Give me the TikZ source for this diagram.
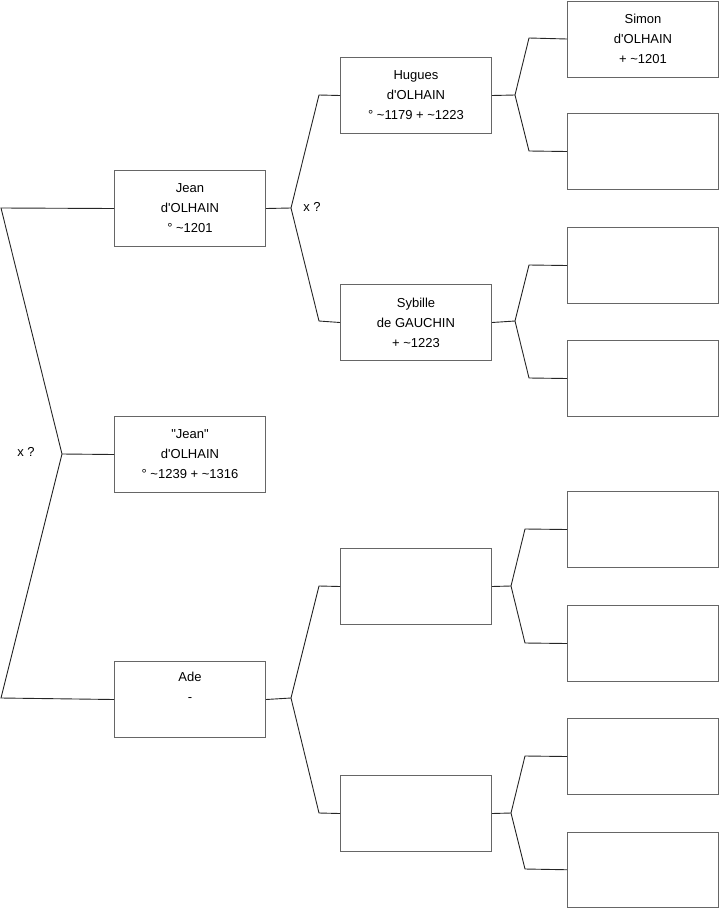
\documentclass[tikz,border=0pt]{standalone}
\usepackage{fontspec}
\setmainfont{Liberation Sans}[Ligatures=TeXOff]
\begin{document}
\begin{tikzpicture}[x=1pt,y=-1pt,
  box/.style={draw=black!60,line width=1pt,fill=white,minimum width=151pt,minimum height=76pt,
    anchor=north west,inner sep=0pt,align=center,font=\fontsize{13}{20}\selectfont},
  conn/.style={draw=black!85,line width=0.9pt},
  lbl/.style={font=\fontsize{13}{14}\selectfont,inner sep=0pt}]
\useasboundingbox (0,0) rectangle (719,908);
% column 1
\node[box] (jean) at (114,170) {Jean\\d'OLHAIN\\° \textasciitilde1201};
\node[box] (jeanq) at (114,416) {"Jean"\\d'OLHAIN\\° \textasciitilde1239 + \textasciitilde1316};
\node[box] (ade) at (114,661) {Ade\\-\\\strut};
% column 2
\node[box] (hug) at (340,57) {Hugues\\d'OLHAIN\\° \textasciitilde1179 + \textasciitilde1223};
\node[box] (syb) at (340,284) {Sybille\\de GAUCHIN\\+ \textasciitilde1223};
\node[box] (b23) at (340,548) {};
\node[box] (b24) at (340,775) {};
% column 3
\node[box] (sim) at (567,0.5) {Simon\\d'OLHAIN\\+ \textasciitilde1201};
\node[box] (c2) at (567,113) {};
\node[box] (c3) at (567,227) {};
\node[box] (c4) at (567,340) {};
\node[box] (c5) at (567,491) {};
\node[box] (c6) at (567,605) {};
\node[box] (c7) at (567,718) {};
\node[box,minimum height=75.5pt] (c8) at (567,831.5) {};
% left fork
\coordinate (L0) at (1,208);
\coordinate (Lf) at (62,454);
\coordinate (L1) at (1,698);
\draw[conn] (jean.west) -- (L0) -- (Lf) -- (L1) -- (ade.west);
\draw[conn] (Lf) -- (jeanq.west);
\node[lbl] (x1) at (26,452) {x ?};
% Jean fork
\coordinate (Jf) at (291,208);
\coordinate (Ja) at (319,95);
\coordinate (Jb) at (319,321);
\draw[conn] (jean.east) -- (Jf);
\draw[conn] (hug.west) -- (Ja) -- (Jf) -- (Jb) -- (syb.west);
\node[lbl] (x2) at (312,207) {x ?};
% Ade fork
\coordinate (Af) at (291,698);
\coordinate (Aa) at (319,586);
\coordinate (Ab) at (319,813);
\draw[conn] (ade.east) -- (Af);
\draw[conn] (b23.west) -- (Aa) -- (Af) -- (Ab) -- (b24.west);
% Hugues fork
\coordinate (Hf) at (515,95);
\coordinate (Ha) at (529,38);
\coordinate (Hb) at (529,151);
\draw[conn] (hug.east) -- (Hf);
\draw[conn] (sim.west) -- (Ha) -- (Hf) -- (Hb) -- (c2.west);
% Sybille fork
\coordinate (Sf) at (515,321);
\coordinate (Sa) at (529,265);
\coordinate (Sb) at (529,378);
\draw[conn] (syb.east) -- (Sf);
\draw[conn] (c3.west) -- (Sa) -- (Sf) -- (Sb) -- (c4.west);
% b23 fork
\coordinate (Pf) at (511,586);
\coordinate (Pa) at (525,529);
\coordinate (Pb) at (525,643);
\draw[conn] (b23.east) -- (Pf);
\draw[conn] (c5.west) -- (Pa) -- (Pf) -- (Pb) -- (c6.west);
% b24 fork
\coordinate (Qf) at (511,813);
\coordinate (Qa) at (525,756);
\coordinate (Qb) at (525,869);
\draw[conn] (b24.east) -- (Qf);
\draw[conn] (c7.west) -- (Qa) -- (Qf) -- (Qb) -- (c8.west);
\end{tikzpicture}
\end{document}
